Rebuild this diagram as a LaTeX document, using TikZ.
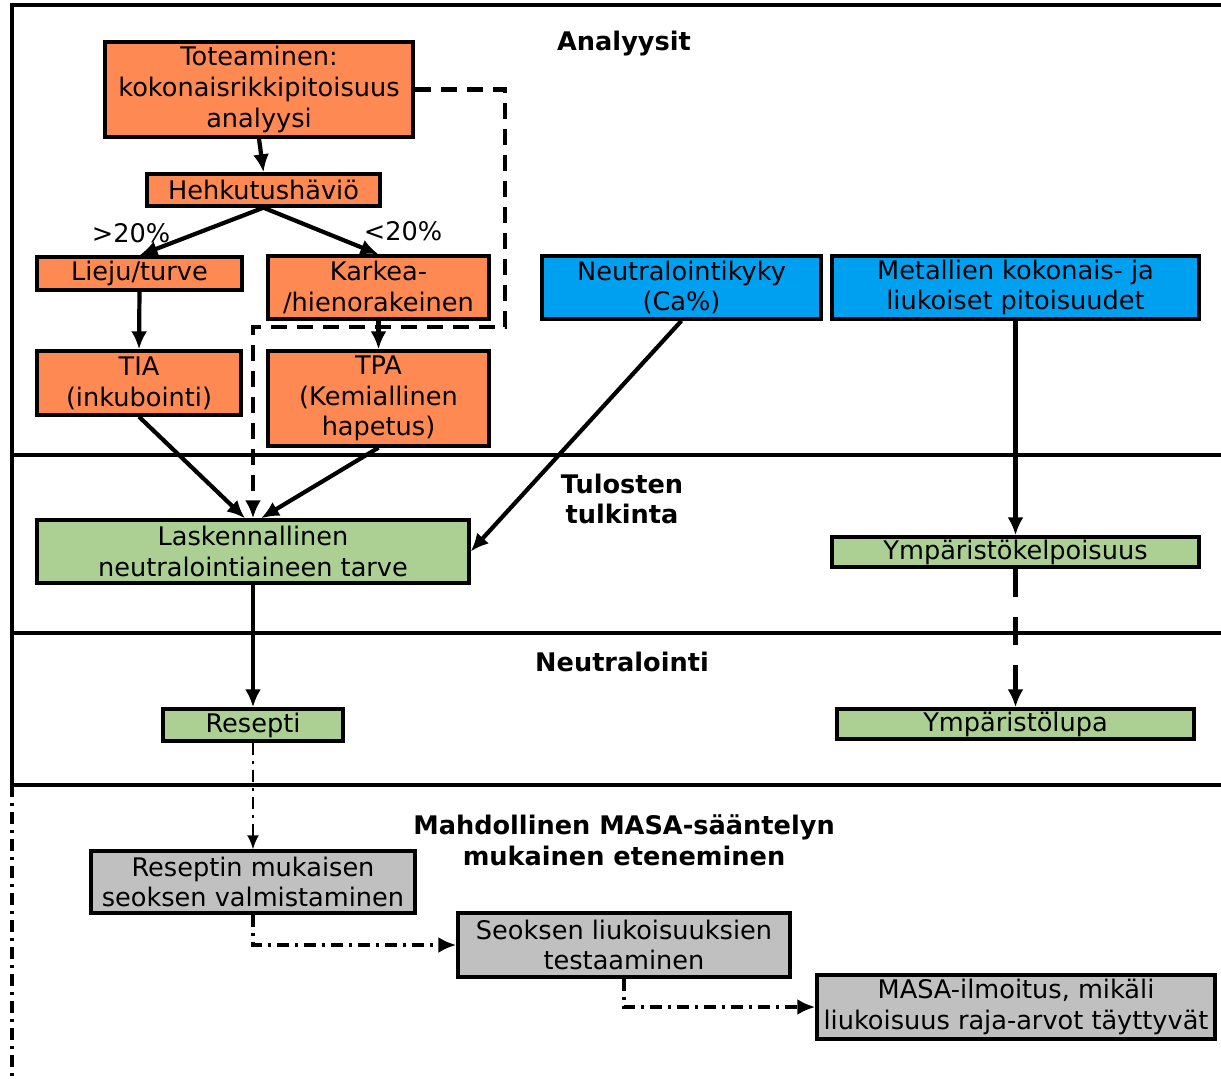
\documentclass[tikz,border=0pt]{standalone}
\usepackage{fontspec}
\setmainfont{DejaVu Sans}
\usepackage{xcolor}
\usepackage{tikz}
\usetikzlibrary{arrows.meta}
\definecolor{oranssi}{RGB}{255,137,82}
\definecolor{sininen}{RGB}{0,160,240}
\definecolor{vihrea}{RGB}{172,208,148}
\definecolor{harmaa}{RGB}{192,192,192}
\tikzstyle{block} = [rectangle, draw, line width=1.7pt, align=center,
inner sep=0pt, font=\fontsize{12.8}{15.4}\selectfont]
\tikzstyle{oranssiblock} = [block, fill=oranssi]
\tikzstyle{sininenblock} = [block, fill=sininen]
\tikzstyle{vihreablock} = [block, fill=vihrea]
\tikzstyle{harmaablock} = [block, fill=harmaa]
\tikzstyle{otsikko} = [align=center, font=\fontsize{12.8}{15.4}\selectfont\bfseries]
\tikzstyle{raja} = [draw, line width=1.6pt]
\tikzstyle{karki} = [-{Latex[length=9pt, width=8pt]}]
\tikzstyle{nuoli} = [draw, line width=2.1pt, karki]
\tikzstyle{katko} = [draw, line width=2.1pt, dash pattern=on 8pt off 5pt]
\tikzstyle{pistekatko} = [draw, line width=1.8pt, dash pattern=on 6pt off 3pt on 1.5pt off 3pt]

\begin{document}
\begin{tikzpicture}[x=0.5pt, y=-0.5pt]
	\useasboundingbox (0,0) rectangle (1221,1078);
	
	% kehys ja vaiheet
	\coordinate (vy) at (12,5);
	\coordinate (oy) at (1221,5);
	\coordinate (va) at (12,785);
	\coordinate (pohja) at (12,1078);
	\path [raja] (oy)--(vy)--(va);
	\path [raja] (12,455)--(1221,455);
	\path [raja] (12,633)--(1221,633);
	\path [raja] (va)--(1221,785);
	\path [pistekatko] (va)--(pohja);
	
	\node [otsikko] (analyysit) at (624,44) {Analyysit};
	\node [otsikko] (tulkinta) at (622,499) {Tulosten\\ tulkinta};
	\node [otsikko] (neutralointi) at (622,662) {Neutralointi};
	\node [otsikko] (masa) at (624,840) {Mahdollinen MASA-sääntelyn\\ mukainen eteneminen};
	
	
	% analyysit
	\node [oranssiblock, minimum width=154pt, minimum height=47.5pt] (tot) at (259,89.5) {Toteaminen:\\ kokonaisrikkipitoisuus\\ analyysi};
	\node [oranssiblock, minimum width=116.5pt, minimum height=16pt] (hehk) at (263.5,190) {Hehkutushäviö};
	\node [oranssiblock, minimum width=102.5pt, minimum height=16.5pt] (lieju) at (139.5,273.5) {Lieju/turve};
	\node [oranssiblock, minimum width=110.5pt, minimum height=31.5pt] (karkea) at (378.5,287.5) {Karkea-\\ /hienorakeinen};
	\node [oranssiblock, minimum width=102pt, minimum height=32pt] (tia) at (139,383) {TIA\\ (inkubointi)};
	\node [oranssiblock, minimum width=110.5pt, minimum height=47.5pt] (tpa) at (378.5,398.5) {TPA\\ (Kemiallinen\\ hapetus)};
	\node [sininenblock, minimum width=139.5pt, minimum height=31.5pt] (kyky) at (681.5,287.5) {Neutralointikyky\\ (Ca\%)};
	\node [sininenblock, minimum width=183.5pt, minimum height=31.5pt] (metallit) at (1015.5,287.5) {Metallien kokonais- ja\\ liukoiset pitoisuudet};
	
	\node [font=\fontsize{12.8}{15.4}\selectfont] (yli) at (131,233) {>20\%};
	\node [font=\fontsize{12.8}{15.4}\selectfont] (alle) at (403,231) {<20\%};
	
	% tulkinta ja neutralointi
	\node [vihreablock, minimum width=216pt, minimum height=31.5pt] (lask) at (253,551.5) {Laskennallinen\\ neutralointiaineen tarve};
	\node [vihreablock, minimum width=183.5pt, minimum height=15pt] (kelp) at (1015.5,552) {Ympäristökelpoisuus};
	\node [vihreablock, minimum width=90pt, minimum height=16pt] (resepti) at (253,725) {Resepti};
	\node [vihreablock, minimum width=178.5pt, minimum height=15pt] (lupa) at (1015.5,724) {Ympäristölupa};
	
	% MASA
	\node [harmaablock, minimum width=162pt, minimum height=31pt] (valmistus) at (253,882) {Reseptin mukaisen\\ seoksen valmistaminen};
	\node [harmaablock, minimum width=166pt, minimum height=32pt] (testaus) at (624,945) {Seoksen liukoisuuksien\\ testaaminen};
	\node [harmaablock, minimum width=199pt, minimum height=32pt] (ilmoitus) at (1016,1007) {MASA-ilmoitus, mikäli\\ liukoisuus raja-arvot täyttyvät};
	
	
	\path [nuoli] (tot.south)--(hehk.north);
	\path [nuoli] (hehk.south)--(lieju.north);
	\path [nuoli] (hehk.south)--(karkea.north);
	\path [nuoli] (lieju.south)--(tia.north);
	\path [nuoli] (karkea.south)--(tpa.north);
	\path [nuoli] (tia.south)--([xshift=-4pt]lask.north);
	\path [nuoli] (tpa.south)--([xshift=4pt]lask.north);
	\path [nuoli] (kyky.south)--(lask.east);
	\path [nuoli] (metallit.south)--(kelp.north);
	\path [nuoli] (lask.south)--(resepti.north);
	
	\coordinate (mutka) at (505,327);
	\path [katko, karki] (tot.east) -| (mutka) -| (lask.north);
	\path [katko, dash pattern=on 14pt off 10pt, karki] (kelp.south)--(lupa.north);
	
	\path [pistekatko, line width=1.1pt, -{Latex[length=7pt, width=6pt]}] (resepti.south)--(valmistus.north);
	\path [pistekatko, karki] (valmistus.south) |- (testaus.west);
	\path [pistekatko, karki] (testaus.south) |- (ilmoitus.west);
	\end{tikzpicture}
\end{document}
